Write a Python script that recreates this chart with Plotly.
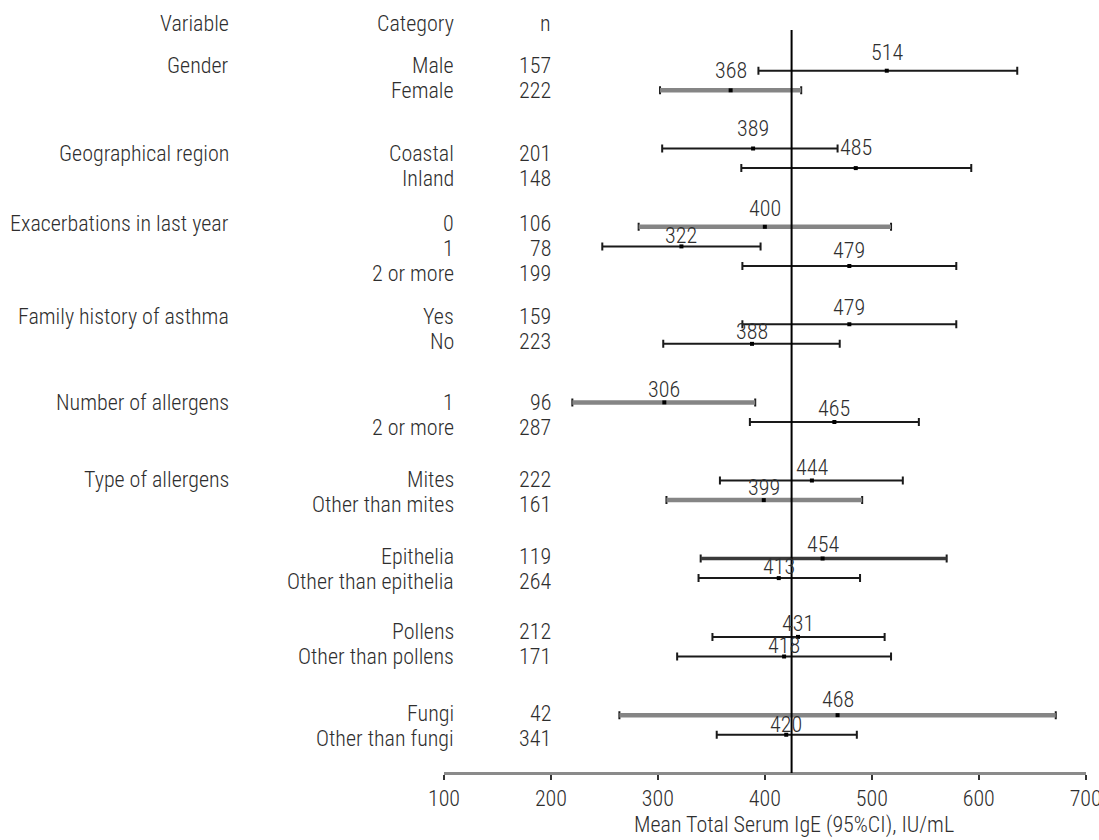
import plotly.graph_objects as go

# ---- data -------------------------------------------------------------
variables = ["Gender", "Geographical region", "Exacerbations in last year",
             "Family history of asthma", "Number of allergens",
             "Type of allergens", "", "", ""]
categories = [["Male", "Female"],
              ["Coastal", "Inland"],
              ["0", "1", "2 or more"],
              ["Yes", "No"],
              ["1", "2 or more"],
              ["Mites", "Other than mites"],
              ["Epithelia", "Other than epithelia"],
              ["Pollens", "Other than pollens"],
              ["Fungi", "Other than fungi"]]
n_counts = [157, 222, 201, 148, 106, 78, 199, 159, 223, 96, 287,
            222, 161, 119, 264, 212, 171, 42, 341]
mean_ige = [514, 368, 389, 485, 400, 322, 479, 479, 388, 306, 465,
            444, 399, 454, 413, 431, 418, 468, 420]
ci_lower = [394, 302, 304, 378, 282, 248, 379, 379, 305, 220, 386,
            358, 308, 340, 338, 351, 318, 264, 355]
ci_upper = [636, 434, 468, 593, 518, 396, 579, 579, 470, 391, 544,
            529, 491, 570, 489, 512, 518, 672, 486]
overall_mean = 425
x_ticks = [100, 200, 300, 400, 500, 600, 700]
x_title = "Mean Total Serum IgE (95%CI), IU/mL"
headers = ["Variable", "Category", "n"]

# ---- styling / layout constants ---------------------------------------
W, H = 1099, 840
FONT = "Roboto Condensed, Roboto, Open Sans, sans-serif"
FS = 22
FW = 300
TXT = "#2e2e2e"
LINE_PX = 25.0                 # pixel height of one text row
TOP_PX = 23.0                  # centre of the header row
group_gap = [1.68, 2.54, 1.80, 1.73, 2.41, 2.08, 2.10, 2.00, 2.27]
BAR_STEP = 19.6 / LINE_PX      # spacing of CI bars inside a group (rows)
# vertical nudge (px) of each group's bars relative to its text block
group_bar_nudge = [3.0, -7.7, -2.1, 4.8, -2.3, -1.2, -0.7, 2.7, -0.8]
# gap (px) between each value label's baseline and its bar
label_lift = [9, 11, 10.7, 11.7, 9.4, 1.7, 6.3, 7.7, 3.6, 4.4, 4.4,
              4, 3.3, 5, 2.3, 4.4, 1.7, 6.7, 1]
DESCENT_PX = 5.5               # baseline-to-box-bottom of a text line
# shade of each CI bar: k = black, g = grey, d = dark grey
bar_shade = ["k", "g", "k", "k", "g", "k", "k", "k", "k", "g", "k",
             "k", "g", "d", "k", "k", "k", "g", "k"]
AXIS_PX = 773
X_LEFT_PX, X_RIGHT_PX = 444, 1085.7
COL_VAR_PX, COL_CAT_PX, COL_N_PX = 231, 456, 553


def font():
    return dict(family=FONT, size=FS, color=TXT, weight=FW)


# ---- row positions ------------------------------------------------------
text_rows, bar_rows, group_first = [], [], []
u = 0.0
for g, cats in enumerate(categories):
    u += group_gap[g]
    rows = [u + k for k in range(len(cats))]
    u = rows[-1]
    text_rows += rows
    centre = (rows[0] + rows[-1]) / 2 + group_bar_nudge[g] / LINE_PX
    m = len(cats)
    bar_rows += [centre + (k - (m - 1) / 2) * BAR_STEP for k in range(m)]
    group_first.append(rows[0])

flat_cats = [c for cats in categories for c in cats]

fig = go.Figure()

# error bars (caps + thin line) drawn for every row
fig.add_trace(go.Scatter(
    x=mean_ige, y=bar_rows, mode="markers",
    marker=dict(size=1, color="rgba(0,0,0,0)"),
    error_x=dict(type="data", symmetric=False,
                 array=[h - m for h, m in zip(ci_upper, mean_ige)],
                 arrayminus=[m - l for m, l in zip(mean_ige, ci_lower)],
                 color="#1a1a1a", thickness=2, width=4),
    hoverinfo="skip", showlegend=False))

# thicker grey / dark grey bar bodies
for shade, col, wid in [("g", "#858585", 4.5), ("d", "#3a3a3a", 3.5)]:
    xs, ys = [], []
    for i, s in enumerate(bar_shade):
        if s == shade:
            xs += [ci_lower[i], ci_upper[i], None]
            ys += [bar_rows[i], bar_rows[i], None]
    fig.add_trace(go.Scatter(x=xs, y=ys, mode="lines",
                             line=dict(color=col, width=wid),
                             hoverinfo="skip", showlegend=False))

# mean markers
fig.add_trace(go.Scatter(
    x=mean_ige, y=bar_rows, mode="markers",
    marker=dict(symbol="square", size=4, color="#000000"),
    hoverinfo="skip", showlegend=False))

ann = []
# value labels above each mean
for x, y, lift in zip(mean_ige, bar_rows, label_lift):
    ann.append(dict(x=x, y=y, xref="x", yref="y", text=str(x),
                    showarrow=False, yanchor="bottom", xanchor="center",
                    yshift=lift - DESCENT_PX, font=font()))

# table columns
def col_text(txt, xpx, ypos):
    ann.append(dict(x=xpx / W, y=ypos, xref="paper", yref="y", text=txt,
                    showarrow=False, xanchor="right", yanchor="middle",
                    font=font()))

for txt, xpx in zip(headers, [COL_VAR_PX, COL_CAT_PX, COL_N_PX]):
    col_text(txt, xpx, 0)
for v, y in zip(variables, group_first):
    if v:
        col_text(v, COL_VAR_PX, y)
for c, n, y in zip(flat_cats, n_counts, text_rows):
    col_text(c, COL_CAT_PX, y)
    col_text(str(n), COL_N_PX, y)

# axis title
ann.append(dict(x=794 / W, y=0, xref="paper", yref="paper", text=x_title,
                showarrow=False, xanchor="center", yanchor="bottom",
                yshift=0, font=font()))

y_top = -TOP_PX / LINE_PX
y_bot = (H - TOP_PX) / LINE_PX
axis_pos = (H - AXIS_PX) / H

fig.update_layout(
    width=W, height=H,
    margin=dict(l=0, r=0, t=0, b=0, pad=0, autoexpand=False),
    paper_bgcolor="white", plot_bgcolor="white",
    annotations=ann,
    shapes=[dict(type="line", xref="x", yref="paper",
                 x0=overall_mean, x1=overall_mean,
                 y0=axis_pos, y1=1 - 30 / H,
                 line=dict(color="#000000", width=2))],
    xaxis=dict(range=[100, 700], domain=[X_LEFT_PX / W, X_RIGHT_PX / W],
               anchor="free", position=axis_pos, automargin=False,
               showgrid=False, zeroline=False,
               showline=True, linecolor="#8a8a8a", linewidth=3,
               ticks="outside", ticklen=5, tickwidth=2, tickcolor="#333333",
               tickvals=x_ticks, ticktext=[str(t) for t in x_ticks],
               ticklabeloverflow="allow",
               tickfont=font()),
    yaxis=dict(range=[y_bot, y_top], domain=[0, 1], visible=False,
               automargin=False, showgrid=False, zeroline=False),
    showlegend=False,
)

fig.write_html("out.html")
